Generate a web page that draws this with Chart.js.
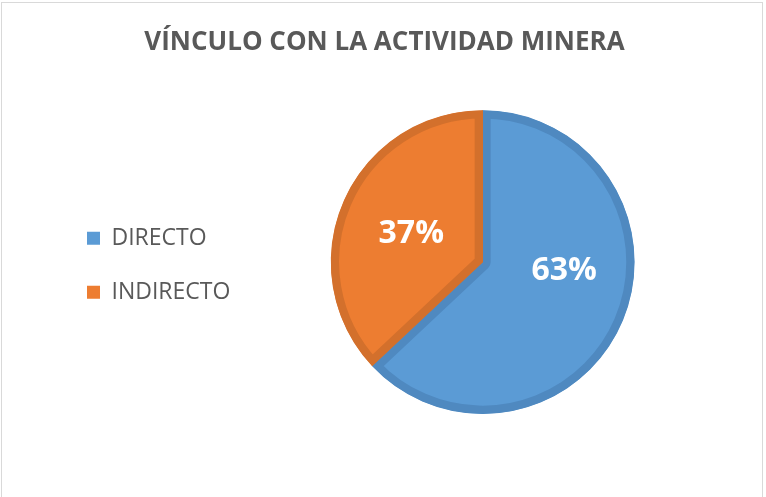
<!DOCTYPE html>
<html lang="es">
<head>
<meta charset="UTF-8">
<title>Vínculo con la actividad minera</title>
<script src="https://cdn.jsdelivr.net/npm/chart.js@4.4.0/dist/chart.umd.min.js"></script>
<style>
  html, body { margin: 0; padding: 0; background: #fff; }
  #frame {
    position: absolute; left: 1px; top: 2px;
    width: 762px; height: 500px;
    border: 1px solid #d9d9d9;
    box-sizing: border-box;
  }
  #frame canvas { display: block; }
</style>
</head>
<body>
<div id="frame">
  <canvas id="pie" width="760" height="498"></canvas>
</div>
<script>
// datos
const categorias = ['DIRECTO', 'INDIRECTO'];
const porcentajes = [63, 37];
const colores = ['#5B9BD5', '#ED7D31'];
const bordes = ['#4F89C0', '#D3702C'];
// posicion de la etiqueta: giro respecto al angulo medio (grados) y fraccion del radio
const giroEtiqueta = [-17, -2];
const radioEtiqueta = [0.54, 0.505];

// etiquetas de porcentaje dentro de cada sector
const etiquetasPlugin = {
  id: 'etiquetas',
  afterLayout(chart) {
    // el titulo va centrado en todo el grafico, no en el area con padding
    chart.titleBlock.left -= 12;
  },
  afterDatasetsDraw(chart) {
    const ctx = chart.ctx;
    const meta = chart.getDatasetMeta(0);
    ctx.save();
    ctx.fillStyle = '#fff';
    ctx.font = 'bold 32px "Open Sans"';
    ctx.textAlign = 'center';
    ctx.textBaseline = 'middle';
    meta.data.forEach((arc, i) => {
      const p = arc.getProps(['x', 'y', 'startAngle', 'endAngle', 'outerRadius']);
      const a = (p.startAngle + p.endAngle) / 2 + giroEtiqueta[i] * Math.PI / 180;
      const r = p.outerRadius * radioEtiqueta[i];
      ctx.fillText(porcentajes[i] + '%', p.x + Math.cos(a) * r, p.y + Math.sin(a) * r);
    });
    ctx.restore();
  }
};

new Chart(document.getElementById('pie'), {
  type: 'pie',
  data: {
    labels: categorias,
    datasets: [{
      data: porcentajes,
      backgroundColor: colores,
      borderColor: bordes,
      borderWidth: 8,
      borderAlign: 'inner',
      hoverOffset: 0
    }]
  },
  options: {
    responsive: false,
    animation: false,
    layout: { padding: { left: 54, right: 37, top: 0, bottom: 87 } },
    plugins: {
      title: {
        display: true,
        text: 'VÍNCULO CON LA ACTIVIDAD MINERA',
        color: '#595959',
        font: { family: 'Open Sans', size: 26, weight: 'bold' },
        padding: { top: 24, bottom: 52 }
      },
      legend: {
        position: 'left',
        title: { display: true, text: '', padding: { top: 99, bottom: 0 } },
        labels: {
          color: '#595959',
          font: { family: 'Open Sans', size: 23 },
          boxWidth: 13,
          boxHeight: 13,
          padding: 31,
          generateLabels(chart) {
            return categorias.map((c, i) => ({
              text: c,
              fillStyle: colores[i],
              strokeStyle: bordes[i],
              lineWidth: 0,
              index: i,
              fontColor: '#595959'
            }));
          }
        }
      },
      tooltip: { enabled: false }
    }
  },
  plugins: [etiquetasPlugin]
});
</script>
</body>
</html>
